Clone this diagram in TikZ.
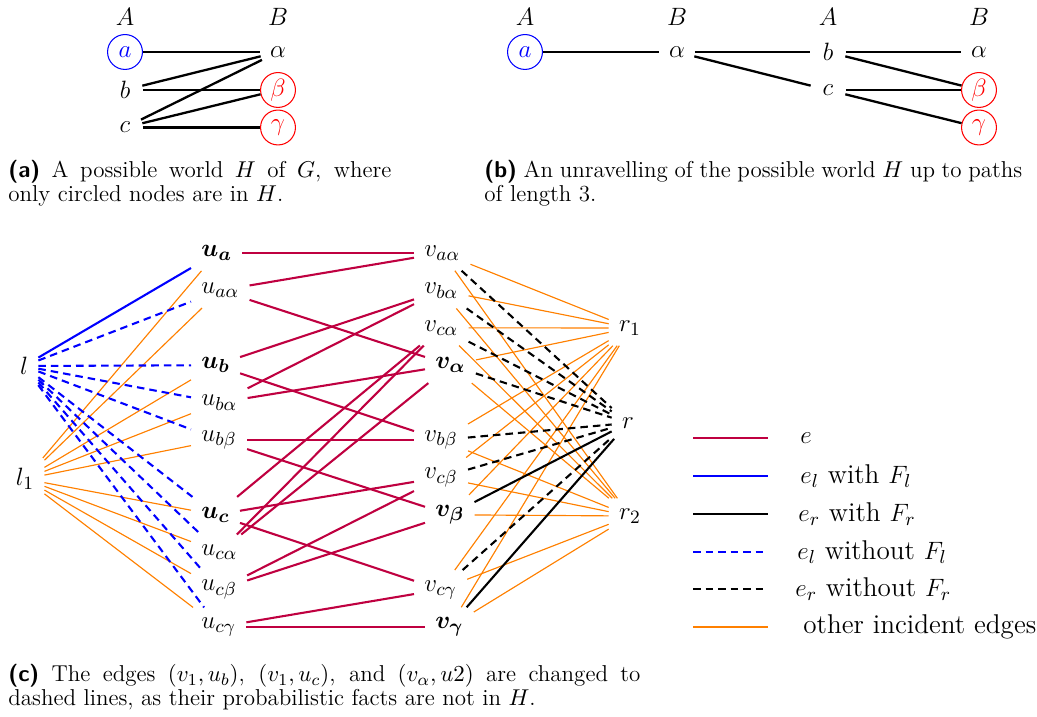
\documentclass[tikz,border=0pt]{standalone}
\usepackage{amsmath, amssymb}
\usepackage{xcolor}
\usetikzlibrary{arrows.meta, positioning}

\newcommand{\capline}[2]{\hbox to #1{#2}}

\tikzset{
    colhead/.style={font=\fontsize{11.5}{14}\selectfont},
    vtx/.style={circle, minimum size=16.7pt, inner sep=0pt, font=\fontsize{11.5}{14}\selectfont},
    inH/.style={vtx, draw, line width=0.5pt},
    wedge/.style={line width=1.1pt},
    lbl/.style={inner sep=4.8pt, font=\fontsize{13}{15}\selectfont},
    epurple/.style={purple, line width=1pt},
    eblue/.style={blue, line width=1pt},
    eblack/.style={black, line width=1pt},
    eorange/.style={orange, line width=0.55pt},
    dashedge/.style={dash pattern=on 3.6pt off 2.4pt},
    ebluedash/.style={eblue, dashedge},
    eblackdash/.style={eblack, dashedge},
    legline/.style={line width=1.3pt},
    capnode/.style={align=left, inner sep=0pt, anchor=north west, font=\fontsize{11}{11.5}\selectfont},
}

\begin{document}
\begin{tikzpicture}[x=0.4785pt, y=-0.4785pt]
    \useasboundingbox (0,0) rectangle (1037,717);

    % (a) possible world H
    \node[colhead] (wA) at (125,17) {$A$};
    \node[colhead] (wB) at (278,17) {$B$};
    \node[inH, draw=blue, text=blue] (wa) at (125,52) {$a$};
    \node[vtx] (walpha) at (278,52) {$\alpha$};
    \node[vtx] (wb) at (125,90) {$b$};
    \node[inH, draw=red, text=red] (wbeta) at (278,90) {$\beta$};
    \node[vtx] (wc) at (125,127.5) {$c$};
    \node[inH, draw=red, text=red] (wgamma) at (278,127.5) {$\gamma$};
    \foreach \s/\t in {wa/walpha, wb/walpha, wb/wbeta, wc/walpha, wc/wbeta, wc/wgamma}
        \draw[wedge] (\s) -- (\t);
    \node[capnode] (capa) at (8,160) {\capline{183.3pt}{\textsf{\textbf{(a)}} A possible world $H$ of $G$, where}\\only circled nodes are in $H$.};

    % (b) unravelling
    \node[colhead] (tA1) at (525,17) {$A$};
    \node[colhead] (tB1) at (677,17) {$B$};
    \node[colhead] (tA2) at (828,17) {$A$};
    \node[colhead] (tB2) at (979,17) {$B$};
    \node[inH, draw=blue, text=blue] (ta) at (525,52) {$a$};
    \node[vtx] (talpha) at (677,52) {$\alpha$};
    \node[vtx] (tb) at (828,52) {$b$};
    \node[vtx] (tc) at (828,90) {$c$};
    \node[vtx] (talphaB) at (979,52) {$\alpha$};
    \node[inH, draw=red, text=red] (tbeta) at (979,90) {$\beta$};
    \node[inH, draw=red, text=red] (tgamma) at (979,127.5) {$\gamma$};
    \foreach \s/\t in {ta/talpha, talpha/tb, talpha/tc, tb/talphaB, tb/tbeta, tc/tbeta, tc/tgamma}
        \draw[wedge] (\s) -- (\t);
    \node[capnode] (capb) at (484,160) {\capline{257.4pt}{\textsf{\textbf{(b)}} An unravelling of the possible world $H$ up to paths}\\of length 3.};

    % (c) left side
    \node[lbl] (l) at (24,366) {$l$};
    \node[lbl] (l1) at (25,479) {$l_1$};
    \foreach \n/\k/\t in {ua/0/{\boldsymbol{u_a}}, uaal/1/{u_{a\alpha}}, ub/3/{\boldsymbol{u_b}}, ubal/4/{u_{b\alpha}}, ubbe/5/{u_{b\beta}}, uc/7/{\boldsymbol{u_c}}, ucal/8/{u_{c\alpha}}, ucbe/9/{u_{c\beta}}, ucga/10/{u_{c\gamma}}}
        \node[lbl, anchor=west] (\n) at (191, 253+37.4*\k) {$\t$};

    % (c) right side
    \foreach \n/\k/\x/\t in {vaal/0/414/{v_{a\alpha}}, vbal/1/414/{v_{b\alpha}}, vcal/2/414/{v_{c\alpha}}, val/3/425/{\boldsymbol{v_\alpha}}, vbbe/5/414/{v_{b\beta}}, vcbe/6/414/{v_{c\beta}}, vbe/7/425/{\boldsymbol{v_\beta}}, vcga/9/414/{v_{c\gamma}}, vga/10/425/{\boldsymbol{v_\gamma}}}
        \node[lbl, anchor=west] (\n) at (\x, 253+37.4*\k) {$\t$};
    \node[lbl] (r1) at (630,328) {$r_1$};
    \node[lbl] (r) at (628,423) {$r$};
    \node[lbl] (r2) at (630,516) {$r_2$};

    % other incident edges
    \foreach \n in {ua, uaal, ub, ubal, ubbe, uc, ucal, ucbe, ucga}
        \draw[eorange] (l1) -- (\n);
    \foreach \n in {vaal, vbal, vcal, val, vbbe, vcbe, vbe, vcga, vga}{
        \draw[eorange] (\n) -- (r1);
        \draw[eorange] (\n) -- (r2);
    }

    % e_l and e_r
    \draw[eblue] (l) -- (ua);
    \foreach \n in {uaal, ub, ubal, ubbe, uc, ucal, ucbe, ucga}
        \draw[ebluedash] (l) -- (\n);
    \foreach \n in {vaal, vbal, vcal, val, vbbe, vcbe, vcga}
        \draw[eblackdash] (\n) -- (r);
    \draw[eblack] (vbe) -- (r);
    \draw[eblack] (vga) -- (r);

    % e
    \foreach \s/\t in {ua/vaal, uaal/vaal, uaal/val, ub/vbal, ubal/vbal, ubal/val, ub/vbbe, ubbe/vbbe, ubbe/vbe, uc/vcal, ucal/vcal, ucal/val, uc/vcbe, ucbe/vcbe, ucbe/vbe, uc/vcga, ucga/vcga, ucga/vga}
        \draw[epurple] (\s) -- (\t);

    % Legend
    \foreach \y/\st/\x/\txt in {438/epurple/800/{$e$}, 476/eblue/800/{$e_l$ with $F_l$}, 514/eblack/798/{$e_r$ with $F_r$}, 552/ebluedash/797/{$e_l$ without $F_l$}, 589/eblackdash/795/{$e_r$ without $F_r$}, 627/eorange/803/{other incident edges}}{
        \coordinate (leg\y) at (693,\y);
        \draw[\st, legline] (leg\y) -- ++(75,0);
        \node[anchor=west, inner sep=0pt, font=\fontsize{13}{15}\selectfont] (legtxt\y) at (\x,\y) {\txt};
    }

    \node[capnode] (capc) at (8,664) {\capline{302.4pt}{\textsf{\textbf{(c)}} The edges $(v_1, u_b)$, $(v_1, u_c)$, and $(v_\alpha, u2)$ are changed to}\\dashed lines, as their probabilistic facts are not in $H$.};
\end{tikzpicture}
\end{document}
